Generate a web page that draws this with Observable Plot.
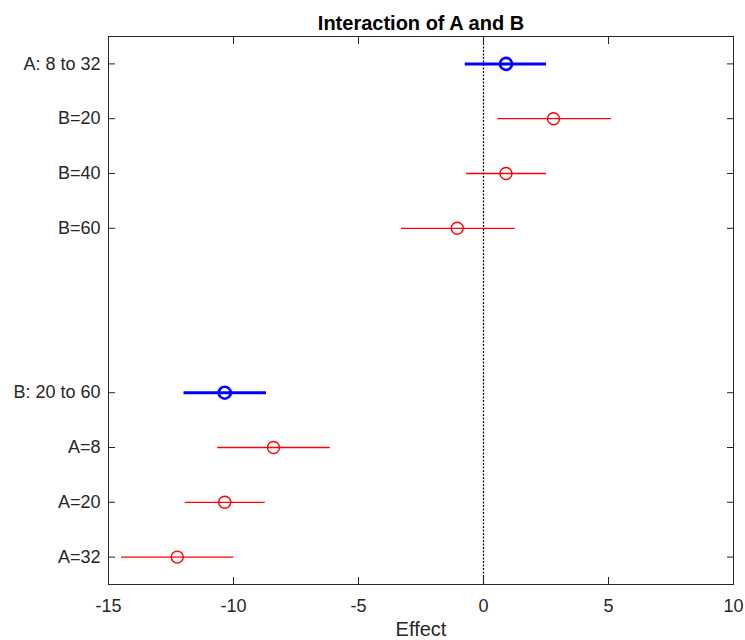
<!DOCTYPE html>
<html>
<head>
<meta charset="utf-8">
<script src="https://cdn.jsdelivr.net/npm/d3@7"></script>
<script src="https://cdn.jsdelivr.net/npm/@observablehq/plot@0.6"></script>
<style>
  html, body { margin: 0; padding: 0; background: #fff; }
</style>
</head>
<body>
<div id="chart"></div>
<script>
const title = "Interaction of A and B";
const xLabel = "Effect";
const rowLabels = ["A: 8 to 32", "B=20", "B=40", "B=60", "B: 20 to 60", "A=8", "A=20", "A=32"];
const rowPositions = [1, 2, 3, 4, 7, 8, 9, 10];
const estimates = [0.9, 2.8, 0.9, -1.05, -10.35, -8.4, -10.35, -12.25];
const lowerBounds = [-0.75, 0.55, -0.7, -3.3, -12.0, -10.65, -11.95, -14.5];
const upperBounds = [2.5, 5.1, 2.5, 1.25, -8.7, -6.15, -8.75, -10.0];
const rowKinds = ["main", "interaction", "interaction", "interaction", "main", "interaction", "interaction", "interaction"];
const xTicks = [-15, -10, -5, 0, 5, 10];
const xDomain = [-15, 10];
const yDomain = [10.5, 0.5];

const rows = rowLabels.map((label, i) => ({
  label, pos: rowPositions[i], est: estimates[i], lo: lowerBounds[i], hi: upperBounds[i], kind: rowKinds[i]
}));
const mainRows = rows.filter(d => d.kind === "main");
const intRows = rows.filter(d => d.kind === "interaction");
const labelByPos = new Map(rows.map(d => [d.pos, d.label]));

const axisColor = "#262626";
const font = "'Liberation Sans', Arial, Helvetica, sans-serif";

const chart = Plot.plot({
  width: 745,
  height: 640,
  marginLeft: 108,
  marginRight: 12,
  marginTop: 36,
  marginBottom: 56,
  style: { fontFamily: font, fontSize: "18px", background: "#fff", color: axisColor },
  x: { domain: xDomain, label: null },
  y: { domain: yDomain, label: null },
  marks: [
    Plot.ruleX([0], { stroke: "#000", strokeWidth: 1.2, strokeDasharray: "2,1.5" }),
    Plot.link(intRows, { x1: "lo", x2: "hi", y1: "pos", y2: "pos", stroke: "#ff0000", strokeWidth: 1.3 }),
    Plot.dot(intRows, { x: "est", y: "pos", r: 6, stroke: "#ff0000", strokeWidth: 1.4, fill: "none" }),
    Plot.link(mainRows, { x1: "lo", x2: "hi", y1: "pos", y2: "pos", stroke: "#0000ff", strokeWidth: 3 }),
    Plot.dot(mainRows, { x: "est", y: "pos", r: 6, stroke: "#0000ff", strokeWidth: 2.6, fill: "none" }),
    Plot.frame({ stroke: axisColor, strokeWidth: 1 }),
    Plot.axisX(xTicks, { anchor: "bottom", tickSize: -7, tickPadding: 22, tickFormat: d => String(d), stroke: axisColor, fill: axisColor, fontSize: 18, label: null }),
    Plot.axisX(xTicks, { anchor: "top", tickSize: -7, tickFormat: () => "", stroke: axisColor, label: null }),
    Plot.axisY(rowPositions, { anchor: "left", tickSize: -7, tickPadding: 15, tickFormat: d => labelByPos.get(d), stroke: axisColor, fill: axisColor, fontSize: 18, label: null }),
    Plot.axisY(rowPositions, { anchor: "right", tickSize: -7, tickFormat: () => "", stroke: axisColor, label: null }),
    Plot.text([title], { frameAnchor: "top", lineAnchor: "bottom", dy: -6.5, fontSize: 20, fontWeight: "bold", fill: "#000" }),
    Plot.text([xLabel], { frameAnchor: "bottom", lineAnchor: "bottom", dy: 51, fontSize: 20, fill: axisColor })
  ]
});
document.getElementById("chart").appendChild(chart);
</script>
</body>
</html>
